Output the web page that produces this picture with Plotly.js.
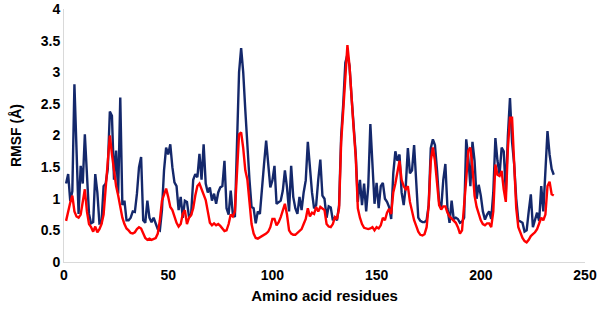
<!DOCTYPE html>
<html>
<head>
<meta charset="utf-8">
<script src="https://cdn.plot.ly/plotly-3.0.1.min.js"></script>
<style>html,body{margin:0;padding:0;background:#fff;}#chart{width:597px;height:314px;}</style>
</head>
<body>
<div id="chart"></div>
<script>
// Residue numbers
var residues = [];
for (var i = 1; i <= 235; i++) residues.push(i);

// RMSF, dark blue series (residues 1..235)
var rmsfBlue = [
1.24,1.39,0.96,1.12,2.81,1.7,0.76,1.52,1.24,2.02,
1.45,0.76,0.61,0.63,1.39,1.1,0.61,0.62,1.2,1.24,
1.47,2.38,2.31,1.3,1.76,1.08,2.6,0.9,0.97,0.66,
0.66,0.7,0.8,0.79,1.08,1.5,1.66,0.66,0.62,0.97,
0.7,0.63,0.7,0.6,0.52,0.5,0.82,1.45,1.81,1.7,
1.86,1.5,1.26,1.2,0.82,1.03,0.7,0.97,0.95,0.71,
0.75,1.3,1.39,1.34,1.71,1.3,1.86,1.24,1.1,1.18,
0.97,1.08,0.92,1.1,1.18,1.2,1.6,0.85,0.75,1.13,
0.76,0.71,1.71,3.0,3.38,3.0,2.4,1.8,1.3,0.87,
0.85,0.61,0.8,0.76,1.1,1.55,1.92,1.5,1.18,1.29,
1.52,0.92,0.95,0.97,1.13,1.45,1.18,0.8,1.52,1.03,
0.85,0.76,1.03,0.82,1.1,1.29,1.9,1.45,1.1,0.85,
0.9,1.3,1.62,1.05,1.0,0.7,0.88,0.86,0.66,0.7,
0.66,0.9,2.0,2.5,3.15,3.28,3.1,2.6,2.1,1.7,
0.95,1.3,0.9,1.24,0.8,1.2,2.18,1.5,0.92,1.25,
0.85,1.2,1.25,1.0,0.95,0.87,0.68,1.4,1.75,1.6,
1.7,1.1,0.9,1.2,1.8,1.4,1.45,1.85,1.2,0.7,
0.65,0.63,0.63,0.66,0.9,1.8,1.94,1.85,1.45,0.95,
0.85,1.3,1.55,0.85,0.62,0.97,0.68,0.7,0.68,0.62,
0.64,0.7,1.94,1.65,1.2,1.9,1.6,1.0,1.22,1.05,
0.8,0.67,0.75,0.8,0.68,1.1,1.96,1.6,1.38,1.81,
1.75,1.1,2.0,2.59,1.9,1.55,1.0,0.66,0.64,0.62,
0.48,0.5,0.8,1.07,0.55,0.68,0.78,0.65,1.2,0.8,
1.4,2.07,1.7,1.47,1.38
];

// RMSF, red series (residues 1..235)
var rmsfRed = [
0.65,0.82,0.94,1.05,0.8,0.72,0.7,0.75,0.95,1.15,
0.8,0.6,0.55,0.48,0.56,0.47,0.52,0.6,0.75,1.2,
1.7,2.0,1.7,1.45,1.2,1.05,0.85,0.7,0.6,0.53,
0.5,0.46,0.45,0.47,0.52,0.55,0.53,0.45,0.38,0.35,
0.37,0.35,0.36,0.38,0.45,0.66,0.97,1.08,1.16,1.03,
0.87,0.82,0.72,0.62,0.56,0.6,0.76,0.82,0.6,0.7,
0.74,0.85,1.05,1.2,1.24,1.15,1.08,0.98,0.8,0.62,
0.58,0.61,0.58,0.6,0.57,0.52,0.49,0.5,0.6,0.75,
0.72,0.8,1.4,2.02,2.05,1.8,1.45,1.3,0.95,0.6,
0.45,0.38,0.37,0.39,0.41,0.42,0.45,0.48,0.55,0.68,
0.68,0.58,0.63,0.71,0.8,0.92,0.75,0.5,0.45,0.43,
0.43,0.46,0.49,0.52,0.6,0.68,0.85,0.72,0.78,0.76,
0.87,0.8,0.87,0.84,0.82,0.6,0.56,0.55,0.6,0.71,
0.68,0.85,1.9,2.4,3.0,3.43,3.1,2.5,2.1,1.65,
0.85,0.7,0.6,0.54,0.53,0.52,0.53,0.55,0.5,0.55,
0.53,0.58,0.7,0.66,0.78,0.84,0.76,1.1,1.24,1.45,
1.6,1.3,1.2,1.15,1.2,0.95,0.78,0.66,0.57,0.48,
0.43,0.42,0.44,0.55,0.9,1.6,1.81,1.6,1.25,0.9,
0.83,0.88,0.88,0.78,0.72,0.69,0.66,0.62,0.55,0.45,
0.5,0.85,1.3,1.76,1.81,1.5,1.05,0.87,0.76,0.66,
0.6,0.58,0.61,0.61,0.55,0.8,1.54,1.38,1.36,1.44,
1.15,0.95,1.8,2.28,2.28,1.6,0.85,0.55,0.45,0.38,
0.33,0.31,0.35,0.41,0.44,0.47,0.52,0.62,0.7,0.66,
0.75,1.2,1.27,1.07,1.05
];

var xTicks = [0, 50, 100, 150, 200, 250];
var yTicks = [0, 0.5, 1, 1.5, 2, 2.5, 3, 3.5, 4];

var font = 'Liberation Sans, Arial, sans-serif';

var traces = [
  {x: residues, y: rmsfBlue, type: 'scatter', mode: 'lines',
   line: {color: '#14286b', width: 2.4}, hoverinfo: 'skip'},
  {x: residues, y: rmsfRed, type: 'scatter', mode: 'lines',
   line: {color: '#ff0000', width: 2.4}, hoverinfo: 'skip'}
];

var layout = {
  width: 597, height: 314,
  margin: {l: 64, r: 12, t: 9, b: 52},
  paper_bgcolor: '#ffffff', plot_bgcolor: '#ffffff',
  showlegend: false,
  font: {family: font, color: '#000000'},
  xaxis: {
    range: [0, 250], tickvals: xTicks, ticktext: xTicks.map(String),
    showgrid: false, zeroline: false,
    showline: true, linecolor: '#d9d9d9', linewidth: 1,
    ticks: '', ticklabeloverflow: 'allow',
    tickfont: {family: font, size: 14, color: '#000', weight: 'bold'},
    title: {text: 'Amino acid residues', font: {family: font, size: 15, color: '#000', weight: 'bold'}, standoff: 8}
  },
  yaxis: {
    range: [0, 4], tickvals: yTicks, ticktext: yTicks.map(String),
    showgrid: false, zeroline: false,
    showline: true, linecolor: '#d9d9d9', linewidth: 1,
    ticks: '', ticklabeloverflow: 'allow',
    tickfont: {family: font, size: 14, color: '#000', weight: 'bold'},
    title: {text: 'RMSF (Å)', font: {family: font, size: 14, color: '#000', weight: 'bold'}, standoff: 15}
  }
};

Plotly.newPlot('chart', traces, layout, {displayModeBar: false, staticPlot: true});
</script>
</body>
</html>
